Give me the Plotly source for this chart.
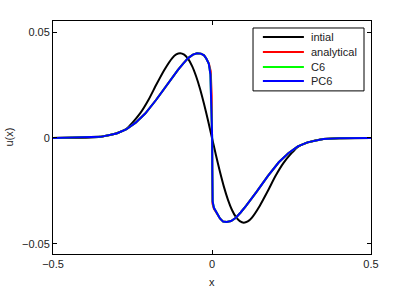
import plotly.graph_objects as go

# initial condition (black)
x_init = [-0.5, -0.45, -0.4, -0.35, -0.3, -0.27, -0.25, -0.225, -0.2, -0.175, -0.15, -0.125, -0.1125, -0.1,
          -0.0875, -0.075, -0.0625, -0.05, -0.0375, -0.025, -0.0125, 0.0,
          0.0125, 0.025, 0.0375, 0.05, 0.0625, 0.075, 0.0875, 0.1, 0.1125, 0.125, 0.15, 0.175, 0.2, 0.225,
          0.25, 0.27, 0.3, 0.35, 0.4, 0.45, 0.5]
u_init = [0.0, 0.0, 0.0001, 0.0005, 0.0022, 0.0042, 0.0072, 0.0118, 0.0179, 0.0252, 0.0321, 0.0377, 0.0394, 0.0400,
          0.0393, 0.0373, 0.0339, 0.0291, 0.0231, 0.0160, 0.0082, 0.0,
          -0.0082, -0.0160, -0.0231, -0.0291, -0.0339, -0.0373, -0.0393, -0.0400, -0.0394, -0.0377, -0.0321,
          -0.0252, -0.0179, -0.0118, -0.0072, -0.0042, -0.0022, -0.0005, -0.0001, 0.0, 0.0]

# PC6 (blue)
x_pc6 = [-0.5, -0.4, -0.35, -0.3, -0.27, -0.24, -0.21, -0.176, -0.14, -0.107, -0.09, -0.075, -0.06, -0.047,
         -0.035, -0.025, -0.018, -0.01, -0.005, -0.002, 0.0005, 0.001, 0.002, 0.006, 0.012, 0.018,
         0.025, 0.035, 0.046, 0.06, 0.075, 0.09, 0.107, 0.14, 0.176, 0.21, 0.24, 0.27, 0.3, 0.35, 0.4, 0.5]
u_pc6 = [0.0, 0.0001, 0.0005, 0.0021, 0.0040, 0.0072, 0.0115, 0.0179, 0.0255, 0.0321, 0.0352, 0.0377, 0.0393, 0.0400,
         0.0398, 0.0390, 0.0375, 0.0350, 0.0300, 0.0180, 0.0, -0.0150, -0.0300, -0.0330, -0.0345, -0.0360,
         -0.0380, -0.0395, -0.0397, -0.0392, -0.0377, -0.0352, -0.0321, -0.0255, -0.0179, -0.0115, -0.0072, -0.0040,
         -0.0021, -0.0005, -0.0001, 0.0]

# C6 (green) - coincides with PC6
x_c6 = list(x_pc6)
u_c6 = list(u_pc6)

# analytical (red)
x_an = [-0.5, -0.4, -0.35, -0.3, -0.27, -0.24, -0.21, -0.176, -0.14, -0.107, -0.09, -0.075, -0.06, -0.047,
        -0.035, -0.025, -0.018, -0.01, -0.004, -0.001, 0.0015, 0.006, 0.012, 0.018,
        0.025, 0.035, 0.046, 0.06, 0.075, 0.09, 0.107, 0.14, 0.176, 0.21, 0.24, 0.27, 0.3, 0.35, 0.4, 0.5]
u_an = [0.0, 0.0001, 0.0005, 0.0021, 0.0040, 0.0072, 0.0115, 0.0179, 0.0255, 0.0321, 0.0352, 0.0377, 0.0393, 0.0400,
        0.0398, 0.0390, 0.0375, 0.0352, 0.0315, 0.0200, -0.0310, -0.0335, -0.0348, -0.0362,
        -0.0380, -0.0395, -0.0397, -0.0392, -0.0377, -0.0352, -0.0321, -0.0255, -0.0179, -0.0115, -0.0072, -0.0040,
        -0.0021, -0.0005, -0.0001, 0.0]

series_names = ["intial", "analytical", "C6", "PC6"]
series_colors = ["#000000", "#ff0000", "#00ff00", "#0000ff"]

x_ticks = [-0.5, 0, 0.5]
x_tick_labels = ["\u22120.5", "0", "0.5"]
y_ticks = [-0.05, 0, 0.05]
y_tick_labels = ["\u22120.05", "0", "0.05"]

fig = go.Figure()
fig.add_trace(go.Scatter(x=x_init, y=u_init, mode="lines", name=series_names[0],
                         line=dict(color=series_colors[0], width=2, shape="spline", smoothing=0.6)))
fig.add_trace(go.Scatter(x=x_an, y=u_an, mode="lines", name=series_names[1],
                         line=dict(color=series_colors[1], width=2)))
fig.add_trace(go.Scatter(x=x_c6, y=u_c6, mode="lines", name=series_names[2],
                         line=dict(color=series_colors[2], width=2)))
fig.add_trace(go.Scatter(x=x_pc6, y=u_pc6, mode="lines", name=series_names[3],
                         line=dict(color=series_colors[3], width=2)))

axis_common = dict(showgrid=False, zeroline=False, showline=True, linecolor="black", linewidth=1,
                   mirror="ticks", ticks="inside", ticklen=4, tickcolor="black", automargin=False,
                   tickfont=dict(family="Liberation Sans, Arial", size=11, color="#222"))

# legend box drawn in paper coordinates (MATLAB-style compact legend)
shapes = [dict(type="rect", xref="paper", yref="paper", x0=0.629, x1=0.978, y0=0.700, y1=0.970,
               line=dict(color="black", width=1), fillcolor="white", layer="above")]
annotations = []
entry_y = [0.931, 0.867, 0.803, 0.742]
for name, color, ey in zip(series_names, series_colors, entry_y):
    shapes.append(dict(type="line", xref="paper", yref="paper", x0=0.660, x1=0.789, y0=ey, y1=ey,
                       line=dict(color=color, width=2), layer="above"))
    annotations.append(dict(text=name, xref="paper", yref="paper", x=0.806, y=ey, xanchor="left",
                            yanchor="middle", showarrow=False, font=dict(size=11, color="#222")))

annotations += [
    dict(text="x", xref="paper", yref="paper", x=0.5, y=-0.119, xanchor="center", yanchor="middle",
         showarrow=False, font=dict(size=11, color="#222")),
    dict(text="u(x)", xref="paper", yref="paper", x=0, y=0.5, xanchor="center", yanchor="middle",
         xshift=-45, textangle=-90, showarrow=False, font=dict(size=11, color="#222")),
]

fig.update_layout(
    width=409, height=288,
    margin=dict(l=53, r=38, t=21, b=34),
    paper_bgcolor="white", plot_bgcolor="white",
    font=dict(family="Liberation Sans, Arial", size=11, color="#222"),
    xaxis=dict(range=[-0.5, 0.5], tickvals=x_ticks, ticktext=x_tick_labels, **axis_common),
    yaxis=dict(range=[-0.0548, 0.0552], tickvals=y_ticks, ticktext=y_tick_labels, **axis_common),
    showlegend=False,
    shapes=shapes,
    annotations=annotations,
)

# remove the browser's default 8px page margin so the figure sits at the window's top-left corner
fig.write_html("out.html", config={"displayModeBar": False},
               post_script="document.body.style.margin='0';")
